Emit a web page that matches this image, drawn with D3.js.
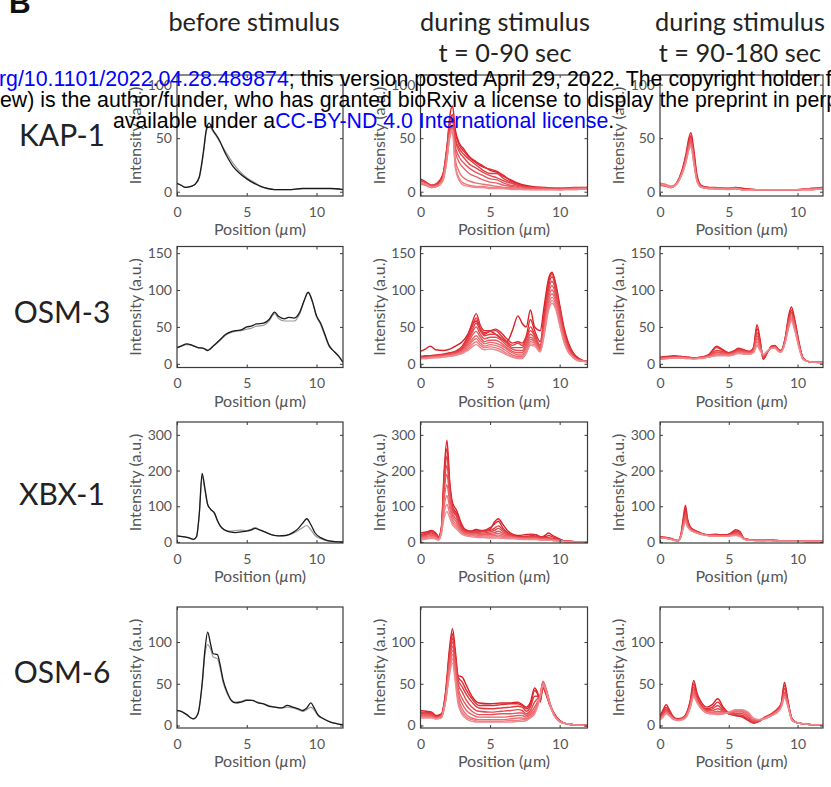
<!DOCTYPE html>
<html>
<head>
<meta charset="utf-8">
<script src="https://cdn.jsdelivr.net/npm/d3@7"></script>
<style>
  body { margin: 0; background: #fff; }
  svg { display: block; }
</style>
</head>
<body>
<script>
// ---------------- data ----------------
var rowNames = ["KAP-1", "OSM-3", "XBX-1", "OSM-6"];
var colTitles = [["before stimulus"], ["during stimulus", "t = 0-90 sec"], ["during stimulus", "t = 90-180 sec"]];
var xTicks = [0, 5, 10];
var yTicksKap = [0, 50, 100];
var yTicksOsm3 = [0, 50, 100, 150];
var yTicksXbx = [0, 100, 200, 300];
var yTicksOsm6 = [0, 50, 100];

// KAP-1
var kapBeforeX = [0, 0.3, 0.6, 1.0, 1.3, 1.6, 1.9, 2.1, 2.3, 2.6, 3.0, 3.5, 4.0, 4.5, 5.0, 5.5, 6.0, 6.5, 7.0, 7.5, 8.0, 9.0, 10.0, 11.0, 11.9];
var kapBeforeBlack = [8, 6, 4, 5, 7, 14, 38, 58, 64, 57, 49, 35, 24, 17, 12, 8, 5, 3, 2, 2, 2, 3, 3, 3, 2];
var kapBeforeGray = [7, 6, 4, 5, 7, 13, 36, 56, 61, 56, 48, 37, 27, 19, 13, 9, 5, 3, 2, 2, 2, 3, 3, 3, 2];
var kapEarlyX = [0, 0.4, 0.8, 1.2, 1.6, 1.9, 2.1, 2.3, 2.5, 2.8, 3.1, 3.5, 4.0, 4.5, 5.0, 5.5, 6.0, 6.5, 7.0, 7.5, 8.0, 9.0, 10.0, 11.0, 12.0];
var kapEarly = [
  [10, 8, 5, 7, 15, 40, 70, 80, 58, 45, 40, 33, 28, 24, 20, 18, 14, 11, 8, 6, 5, 4, 3, 4, 4],
  [12, 9, 6, 8, 16, 42, 65, 72, 55, 43, 38, 32, 27, 23, 21, 19, 15, 10, 7, 5, 4, 3, 3, 3, 4],
  [9, 7, 5, 6, 13, 38, 60, 68, 50, 40, 35, 30, 25, 20, 17, 17, 12, 9, 6, 5, 4, 3, 3, 3, 4],
  [11, 8, 6, 7, 14, 40, 62, 66, 48, 37, 32, 26, 22, 18, 15, 13, 10, 8, 6, 4, 4, 3, 3, 3, 3],
  [8, 6, 4, 6, 12, 35, 55, 62, 42, 32, 27, 22, 18, 15, 12, 11, 8, 6, 5, 4, 3, 3, 3, 3, 3],
  [9, 7, 5, 6, 12, 34, 55, 60, 38, 27, 22, 17, 14, 11, 9, 8, 6, 5, 4, 3, 3, 3, 2, 3, 3],
  [7, 6, 4, 5, 11, 32, 52, 58, 30, 18, 13, 10, 8, 7, 6, 5, 4, 4, 3, 3, 2, 2, 2, 3, 3],
  [8, 6, 4, 5, 10, 30, 50, 56, 25, 12, 8, 6, 5, 5, 4, 4, 3, 3, 3, 2, 2, 2, 2, 2, 3],
  [9, 7, 4, 5, 10, 30, 52, 58, 22, 10, 6, 5, 4, 4, 3, 3, 3, 2, 2, 2, 2, 2, 2, 2, 3]
];
var kapLateX = [0, 0.4, 0.8, 1.2, 1.6, 1.9, 2.1, 2.25, 2.45, 2.7, 3.0, 3.5, 4.0, 5.0, 5.5, 6.0, 7.0, 8.0, 9.0, 10.0, 11.0, 11.8];
var kapLate = [
  [7, 6, 4, 8, 20, 36, 50, 55, 40, 15, 6, 4, 4, 3, 4, 3, 2, 2, 2, 2, 3, 4],
  [8, 6, 4, 8, 19, 34, 47, 52, 36, 13, 5, 4, 3, 3, 4, 3, 2, 2, 2, 2, 2, 4],
  [7, 6, 5, 8, 19, 33, 46, 50, 34, 12, 5, 4, 3, 3, 3, 2, 2, 2, 2, 2, 3, 3],
  [6, 5, 4, 7, 18, 31, 44, 48, 32, 11, 5, 3, 3, 3, 3, 2, 2, 2, 2, 2, 2, 3],
  [7, 6, 4, 7, 17, 30, 42, 46, 30, 10, 5, 3, 3, 3, 3, 2, 2, 2, 2, 2, 3, 3],
  [8, 7, 5, 8, 17, 29, 40, 44, 28, 10, 4, 3, 3, 3, 3, 2, 2, 2, 2, 2, 2, 3],
  [7, 6, 4, 7, 16, 28, 39, 42, 27, 9, 4, 3, 3, 2, 3, 2, 2, 2, 2, 2, 2, 3]
];

// OSM-3
var osm3BeforeX = [0, 0.3, 0.7, 1.1, 1.5, 1.9, 2.2, 2.6, 3.1, 3.5, 3.8, 4.2, 4.6, 5.0, 5.3, 5.7, 6.2, 6.6, 7.0, 7.3, 7.7, 8.0, 8.4, 8.8, 9.1, 9.4, 9.7, 10.0, 10.3, 10.6, 10.9, 11.3, 11.6, 11.9];
var osm3BeforeBlack = [22, 24, 27, 25, 22, 21, 18, 24, 33, 40, 43, 45, 46, 50, 51, 54, 55, 60, 70, 64, 61, 63, 62, 70, 85, 97, 85, 65, 55, 40, 25, 16, 10, 2];
var osm3BeforeGray = [22, 24, 26, 25, 22, 21, 19, 24, 32, 39, 42, 44, 45, 47, 48, 51, 52, 58, 68, 61, 58, 58, 58, 68, 84, 96, 84, 64, 53, 38, 24, 16, 10, 2];
var osm3EarlyX = [0, 0.35, 0.7, 1.1, 1.6, 2.1, 2.6, 3.0, 3.4, 3.7, 4.0, 4.3, 4.6, 5.0, 5.4, 5.8, 6.2, 6.6, 7.0, 7.3, 7.6, 7.9, 8.2, 8.6, 8.9, 9.2, 9.45, 9.7, 10.0, 10.3, 10.6, 11.0, 11.4, 12.0];
var osm3Early = [
  [17, 20, 24, 19, 18, 20, 25, 30, 40, 52, 58, 45, 40, 44, 40, 34, 30, 45, 65, 55, 50, 73, 50, 45, 80, 115, 124, 110, 80, 50, 30, 14, 7, 3],
  [10, 11, 11, 12, 13, 15, 18, 24, 38, 55, 68, 52, 45, 45, 47, 42, 34, 28, 30, 28, 38, 60, 45, 30, 70, 110, 122, 108, 78, 48, 28, 13, 6, 3],
  [9, 10, 10, 11, 12, 14, 17, 22, 35, 50, 62, 48, 42, 44, 45, 38, 30, 25, 28, 25, 35, 50, 40, 25, 65, 105, 118, 105, 75, 45, 26, 12, 6, 3],
  [9, 9, 10, 11, 12, 13, 16, 20, 32, 45, 55, 45, 38, 40, 40, 35, 28, 22, 22, 22, 32, 45, 38, 22, 60, 100, 112, 100, 72, 42, 24, 11, 5, 3],
  [8, 9, 9, 10, 11, 13, 15, 19, 30, 42, 50, 40, 34, 36, 36, 32, 25, 20, 18, 18, 28, 40, 35, 21, 55, 95, 106, 95, 68, 40, 22, 10, 5, 3],
  [8, 8, 9, 10, 11, 12, 14, 18, 27, 38, 44, 36, 30, 32, 32, 28, 22, 17, 15, 15, 25, 36, 32, 20, 50, 90, 100, 90, 64, 38, 20, 9, 5, 3],
  [8, 8, 9, 9, 10, 12, 14, 17, 25, 33, 38, 32, 27, 29, 28, 25, 20, 15, 12, 12, 22, 33, 30, 19, 48, 85, 95, 86, 60, 35, 19, 9, 5, 3],
  [7, 8, 8, 9, 10, 11, 13, 16, 22, 30, 34, 28, 24, 26, 25, 22, 17, 12, 10, 10, 18, 30, 28, 18, 45, 80, 90, 82, 57, 33, 18, 8, 4, 3],
  [7, 7, 8, 9, 10, 11, 12, 15, 20, 26, 30, 25, 22, 23, 22, 19, 14, 10, 8, 8, 16, 27, 26, 17, 42, 76, 86, 78, 54, 31, 17, 8, 4, 3],
  [7, 7, 8, 8, 9, 10, 12, 14, 18, 23, 26, 22, 19, 20, 19, 16, 12, 9, 7, 7, 14, 25, 24, 16, 40, 72, 82, 75, 52, 30, 16, 8, 4, 3]
];
var osm3LateX = [0, 0.5, 1.0, 1.5, 2.0, 2.5, 3.0, 3.5, 3.8, 4.1, 4.5, 5.0, 5.3, 5.7, 6.1, 6.5, 6.8, 7.05, 7.3, 7.5, 7.8, 8.1, 8.35, 8.6, 8.8, 9.1, 9.35, 9.55, 9.8, 10.1, 10.4, 10.8, 11.3, 11.85];
var osm3Late = [
  [9, 10, 11, 10, 9, 8, 9, 12, 18, 24, 20, 15, 17, 20, 18, 16, 22, 53, 30, 6, 15, 24, 25, 20, 18, 35, 65, 77, 60, 30, 8, 3, 2, 2],
  [8, 9, 10, 10, 9, 8, 9, 11, 17, 22, 19, 15, 16, 21, 19, 17, 22, 48, 28, 7, 15, 23, 24, 19, 18, 34, 62, 73, 57, 28, 8, 3, 2, 2],
  [8, 9, 10, 9, 8, 8, 9, 11, 15, 18, 17, 14, 16, 19, 18, 16, 20, 42, 26, 9, 16, 22, 24, 19, 17, 33, 60, 70, 55, 27, 8, 3, 2, 2],
  [7, 8, 9, 9, 8, 7, 8, 10, 13, 16, 15, 13, 15, 18, 17, 15, 19, 38, 24, 10, 16, 22, 23, 18, 17, 32, 58, 68, 53, 26, 7, 3, 2, 2],
  [7, 8, 9, 9, 8, 7, 8, 10, 12, 15, 14, 13, 14, 17, 16, 15, 18, 34, 22, 11, 16, 22, 23, 18, 17, 31, 55, 65, 51, 25, 7, 3, 2, 2],
  [7, 8, 8, 8, 8, 7, 8, 9, 11, 13, 13, 12, 13, 16, 15, 14, 17, 30, 20, 12, 17, 22, 22, 18, 16, 30, 52, 62, 49, 24, 7, 3, 2, 1],
  [6, 7, 8, 8, 7, 7, 8, 9, 10, 12, 12, 11, 12, 15, 14, 13, 16, 26, 18, 12, 17, 21, 22, 17, 16, 29, 50, 60, 47, 23, 6, 3, 2, 1],
  [6, 7, 8, 8, 7, 7, 7, 9, 10, 11, 11, 11, 12, 14, 13, 13, 15, 24, 17, 13, 17, 21, 21, 17, 16, 28, 48, 58, 45, 22, 6, 3, 2, 1]
];

// XBX-1
var xbxBeforeX = [0, 0.4, 0.8, 1.2, 1.4, 1.6, 1.8, 2.0, 2.2, 2.4, 2.7, 2.9, 3.1, 3.4, 3.8, 4.2, 4.6, 5.0, 5.3, 5.6, 5.9, 6.3, 6.8, 7.3, 7.8, 8.3, 8.7, 9.0, 9.3, 9.6, 9.9, 10.3, 10.8, 11.3, 11.9];
var xbxBeforeBlack = [17, 15, 12, 7, 15, 80, 192, 150, 105, 92, 80, 60, 45, 34, 28, 26, 28, 30, 33, 38, 34, 28, 20, 17, 18, 26, 38, 52, 65, 48, 25, 12, 4, 1, 0];
var xbxBeforeGray = [17, 15, 12, 7, 14, 78, 185, 145, 104, 92, 78, 58, 44, 33, 30, 32, 33, 32, 35, 40, 35, 28, 20, 17, 18, 24, 32, 40, 46, 34, 18, 9, 3, 1, 0];
var xbxEarlyX = [0, 0.4, 0.8, 1.1, 1.3, 1.5, 1.7, 1.9, 2.1, 2.3, 2.6, 2.9, 3.2, 3.6, 4.0, 4.5, 5.0, 5.3, 5.6, 5.9, 6.3, 7.0, 7.5, 8.0, 8.3, 8.6, 9.0, 9.2, 9.5, 9.9, 10.3, 10.8, 11.4, 12.0];
var xbxEarly = [
  [25, 28, 32, 25, 15, 40, 200, 285, 170, 110, 88, 55, 35, 30, 35, 30, 35, 55, 65, 50, 30, 18, 20, 22, 20, 12, 20, 25, 18, 10, 3, 1, 0, 0],
  [20, 25, 30, 22, 14, 38, 185, 262, 160, 100, 80, 50, 32, 30, 33, 32, 40, 50, 58, 40, 25, 15, 15, 18, 20, 15, 15, 18, 14, 8, 3, 1, 0, 0],
  [18, 22, 28, 20, 12, 36, 170, 240, 150, 95, 75, 45, 30, 28, 30, 30, 32, 38, 45, 35, 22, 14, 14, 15, 16, 12, 12, 12, 10, 6, 2, 1, 0, 0],
  [15, 20, 25, 18, 10, 34, 155, 215, 140, 88, 70, 40, 28, 26, 27, 25, 28, 32, 38, 30, 20, 13, 12, 13, 14, 10, 10, 10, 8, 5, 2, 1, 0, 0],
  [14, 18, 22, 16, 9, 32, 140, 190, 125, 80, 62, 36, 26, 24, 24, 22, 24, 26, 30, 25, 18, 12, 11, 12, 12, 9, 9, 9, 7, 5, 2, 1, 0, 0],
  [12, 15, 18, 14, 8, 30, 120, 160, 110, 72, 55, 33, 24, 22, 22, 20, 20, 22, 24, 20, 16, 11, 10, 10, 10, 8, 8, 8, 6, 4, 2, 1, 0, 0],
  [10, 12, 15, 12, 7, 28, 100, 130, 95, 62, 48, 30, 22, 20, 19, 17, 17, 18, 19, 16, 14, 10, 9, 9, 9, 7, 7, 7, 5, 3, 1, 0, 0, 0],
  [8, 10, 12, 10, 6, 26, 82, 105, 80, 55, 42, 27, 20, 18, 16, 14, 14, 14, 15, 13, 12, 9, 8, 8, 8, 6, 6, 6, 4, 3, 1, 0, 0, 0],
  [6, 8, 10, 8, 5, 24, 68, 85, 68, 48, 36, 24, 18, 15, 13, 12, 11, 11, 11, 10, 9, 8, 7, 7, 7, 5, 5, 5, 4, 2, 1, 0, 0, 0]
];
var xbxLateX = [0, 0.4, 0.8, 1.1, 1.3, 1.5, 1.7, 1.85, 2.0, 2.2, 2.5, 2.8, 3.2, 3.6, 4.0, 4.4, 4.8, 5.2, 5.5, 5.8, 6.1, 6.5, 7.0, 7.5, 8.0, 8.5, 9.0, 10.0, 11.0, 11.85];
var xbxLate = [
  [15, 13, 10, 6, 4, 18, 70, 102, 65, 42, 33, 28, 22, 20, 22, 20, 20, 26, 34, 30, 10, 6, 5, 5, 6, 4, 3, 2, 1, 1],
  [14, 12, 9, 5, 4, 16, 62, 92, 60, 40, 32, 27, 22, 19, 20, 19, 19, 24, 30, 27, 10, 6, 5, 5, 5, 4, 3, 2, 1, 1],
  [13, 12, 9, 5, 3, 15, 55, 82, 55, 38, 30, 26, 21, 19, 19, 18, 18, 22, 26, 24, 9, 6, 5, 4, 5, 4, 3, 2, 1, 1],
  [13, 11, 8, 5, 3, 14, 50, 74, 50, 37, 30, 25, 21, 18, 18, 17, 17, 20, 23, 21, 9, 5, 4, 4, 5, 3, 3, 2, 1, 1],
  [12, 11, 8, 4, 3, 13, 45, 66, 46, 35, 29, 24, 20, 18, 18, 17, 17, 19, 21, 19, 8, 5, 4, 4, 4, 3, 2, 2, 1, 1],
  [12, 10, 7, 4, 3, 12, 42, 60, 44, 34, 28, 24, 20, 17, 17, 16, 16, 18, 19, 17, 8, 5, 4, 4, 4, 3, 2, 2, 1, 1],
  [11, 10, 7, 4, 3, 12, 40, 56, 42, 33, 27, 23, 19, 17, 17, 16, 16, 17, 18, 16, 8, 5, 4, 4, 4, 3, 2, 2, 1, 1]
];

// OSM-6
var osm6BeforeX = [0, 0.3, 0.7, 1.0, 1.2, 1.5, 1.8, 2.0, 2.2, 2.4, 2.6, 2.9, 3.1, 3.3, 3.6, 3.9, 4.2, 4.6, 5.0, 5.4, 5.8, 6.2, 6.6, 7.0, 7.5, 7.9, 8.3, 8.7, 9.0, 9.3, 9.6, 9.8, 10.1, 10.5, 11.0, 11.5, 11.9];
var osm6BeforeBlack = [18, 17, 13, 9, 8, 14, 50, 90, 112, 98, 86, 85, 72, 55, 40, 30, 27, 28, 30, 30, 27, 26, 23, 22, 21, 24, 22, 20, 18, 21, 27, 22, 13, 8, 4, 2, 1];
var osm6BeforeGray = [18, 17, 13, 9, 8, 14, 48, 85, 97, 92, 82, 80, 68, 52, 38, 30, 28, 29, 31, 30, 28, 26, 24, 22, 21, 22, 21, 19, 17, 19, 22, 19, 12, 8, 4, 2, 1];
var osm6EarlyX = [0, 0.4, 0.8, 1.1, 1.5, 1.8, 2.1, 2.3, 2.5, 2.7, 3.0, 3.3, 3.7, 4.2, 5.0, 5.8, 6.5, 7.0, 7.3, 7.6, 7.9, 8.2, 8.4, 8.6, 8.8, 9.0, 9.3, 9.6, 10.0, 10.5, 11.0, 12.0];
var osm6Early = [
  [18, 17, 16, 12, 14, 40, 95, 116, 90, 60, 58, 48, 35, 27, 26, 27, 27, 28, 25, 22, 28, 45, 40, 30, 48, 40, 25, 15, 6, 2, 1, 0],
  [16, 16, 15, 11, 13, 38, 90, 110, 85, 58, 52, 42, 32, 24, 24, 25, 26, 26, 24, 20, 25, 42, 38, 28, 45, 38, 24, 14, 6, 2, 1, 0],
  [15, 15, 14, 10, 12, 36, 86, 105, 80, 55, 46, 37, 28, 21, 20, 21, 22, 23, 22, 17, 22, 35, 35, 30, 48, 40, 24, 13, 5, 2, 1, 0],
  [14, 14, 13, 10, 12, 34, 82, 100, 76, 50, 40, 30, 22, 17, 16, 17, 18, 19, 18, 14, 18, 28, 32, 33, 50, 42, 25, 13, 5, 2, 1, 0],
  [13, 13, 12, 9, 11, 33, 78, 95, 72, 45, 32, 24, 17, 13, 13, 14, 14, 15, 15, 12, 15, 22, 28, 35, 52, 44, 26, 13, 5, 2, 1, 0],
  [12, 12, 11, 9, 11, 32, 74, 90, 68, 40, 26, 18, 13, 10, 10, 10, 11, 12, 12, 10, 13, 18, 25, 36, 53, 45, 27, 13, 5, 2, 1, 0],
  [11, 11, 10, 8, 10, 30, 70, 85, 62, 35, 20, 13, 9, 7, 7, 7, 8, 9, 9, 8, 11, 16, 24, 36, 52, 45, 27, 13, 5, 2, 1, 0],
  [10, 10, 10, 8, 10, 29, 66, 80, 58, 30, 16, 10, 7, 5, 5, 5, 6, 6, 7, 7, 10, 15, 23, 35, 50, 44, 26, 12, 5, 2, 1, 0],
  [9, 9, 9, 8, 9, 28, 62, 75, 52, 26, 13, 8, 5, 4, 4, 4, 4, 5, 5, 6, 9, 14, 22, 34, 48, 42, 25, 12, 5, 2, 1, 0]
];
var osm6LateX = [0, 0.2, 0.45, 0.7, 1.0, 1.3, 1.6, 1.9, 2.2, 2.45, 2.7, 3.0, 3.4, 3.8, 4.2, 4.6, 5.0, 5.5, 6.0, 6.4, 6.8, 7.2, 7.6, 8.0, 8.4, 8.8, 9.05, 9.3, 9.6, 10.0, 10.5, 11.0, 11.85];
var osm6Late = [
  [12, 18, 25, 18, 10, 8, 9, 14, 30, 54, 38, 28, 22, 25, 32, 22, 15, 12, 10, 6, 3, 5, 10, 13, 18, 26, 52, 30, 8, 3, 2, 1, 1],
  [10, 16, 22, 16, 9, 7, 8, 13, 28, 50, 35, 25, 20, 22, 28, 20, 14, 12, 11, 7, 3, 5, 9, 12, 17, 25, 48, 28, 8, 3, 2, 1, 1],
  [9, 14, 20, 15, 9, 7, 8, 12, 26, 46, 33, 24, 19, 20, 24, 18, 14, 13, 12, 8, 4, 5, 9, 12, 17, 24, 44, 27, 7, 3, 2, 1, 1],
  [8, 13, 18, 14, 8, 7, 8, 12, 25, 43, 32, 23, 18, 18, 20, 17, 15, 14, 14, 10, 5, 6, 9, 12, 16, 24, 40, 26, 7, 3, 2, 1, 1],
  [8, 12, 17, 13, 8, 7, 8, 11, 24, 40, 30, 22, 17, 16, 17, 16, 15, 16, 16, 12, 6, 6, 9, 12, 16, 23, 38, 25, 7, 3, 2, 1, 1],
  [7, 11, 16, 12, 8, 7, 7, 11, 23, 38, 29, 21, 16, 15, 15, 15, 15, 17, 17, 14, 7, 7, 9, 11, 15, 22, 36, 24, 7, 3, 2, 1, 1],
  [7, 10, 15, 12, 8, 6, 7, 10, 22, 36, 28, 20, 15, 14, 14, 14, 16, 18, 18, 15, 8, 7, 8, 11, 15, 22, 34, 24, 6, 3, 2, 1, 1],
  [7, 10, 14, 11, 7, 6, 7, 10, 21, 34, 27, 20, 15, 14, 13, 14, 16, 19, 19, 16, 9, 7, 8, 11, 14, 21, 33, 23, 6, 3, 2, 1, 1]
];

// ---------------- layout ----------------
var W = 831, H = 787;
var colX = [177, 420.5, 660];
var colW = [166, 167, 163];
var colXMax = [11.9, 12, 11.85];
var rowY = [75, 246.5, 422, 607];
var rowH = 121;
var rowYLim = [[-4, 109], [-5, 159], [-3, 336], [-3, 142]];
var rowYTicks = [yTicksKap, yTicksOsm3, yTicksXbx, yTicksOsm6];

var axisFont = "Lato, 'Open Sans', sans-serif";
var axisColor = "#3a3a3a";
var labelColor = "#555";
var darkRed = "#dc1f26", lightRed = "#f0898d";

var svg = d3.select("body").append("svg")
  .attr("width", W).attr("height", H)
  .style("font-family", axisFont);

svg.append("rect").attr("width", W).attr("height", H).attr("fill", "#fff");

// each row: before (black + gray), early (red family), late (red family)
var rows = [
  {before: [kapBeforeX, kapBeforeBlack, kapBeforeGray], early: [kapEarlyX, kapEarly], late: [kapLateX, kapLate]},
  {before: [osm3BeforeX, osm3BeforeBlack, osm3BeforeGray], early: [osm3EarlyX, osm3Early], late: [osm3LateX, osm3Late]},
  {before: [xbxBeforeX, xbxBeforeBlack, xbxBeforeGray], early: [xbxEarlyX, xbxEarly], late: [xbxLateX, xbxLate]},
  {before: [osm6BeforeX, osm6BeforeBlack, osm6BeforeGray], early: [osm6EarlyX, osm6Early], late: [osm6LateX, osm6Late]}
];

var panelId = 0;

function draw_panel(r, c, xs, traces) {
  // traces: list of {ys, color, width}
  var x0 = colX[c], y0 = rowY[r], w = colW[c], h = rowH;
  var x = d3.scaleLinear().domain([0, colXMax[c]]).range([x0, x0 + w]);
  var y = d3.scaleLinear().domain(rowYLim[r]).range([y0 + h, y0]);
  var g = svg.append("g");

  panelId++;
  var clipName = "clip" + panelId;
  g.append("clipPath").attr("id", clipName)
    .append("rect").attr("x", x0).attr("y", y0).attr("width", w).attr("height", h);

  var line = d3.line()
    .x(function(d) { return x(d[0]); })
    .y(function(d) { return y(d[1]); })
    .curve(d3.curveMonotoneX);

  var lg = g.append("g").attr("clip-path", "url(#" + clipName + ")");
  traces.forEach(function(t) {
    lg.append("path")
      .attr("d", line(xs.map(function(v, i) { return [v, t.ys[i]]; })))
      .attr("fill", "none")
      .attr("stroke", t.color)
      .attr("stroke-width", t.width)
      .attr("stroke-linejoin", "round");
  });

  // axes with inward ticks on all four sides (matlab box style)
  var yTicks = rowYTicks[r];
  var left = g.append("g").attr("transform", "translate(" + x0 + ",0)")
    .call(d3.axisLeft(y).tickValues(yTicks).tickSizeInner(-3).tickSizeOuter(0).tickPadding(5));
  var right = g.append("g").attr("transform", "translate(" + (x0 + w) + ",0)")
    .call(d3.axisRight(y).tickValues(yTicks).tickSizeInner(-3).tickSizeOuter(0).tickFormat(""));
  var bottom = g.append("g").attr("transform", "translate(0," + (y0 + h) + ")")
    .call(d3.axisBottom(x).tickValues(xTicks).tickSizeInner(-3).tickSizeOuter(0).tickPadding(11));
  var top = g.append("g").attr("transform", "translate(0," + y0 + ")")
    .call(d3.axisTop(x).tickValues(xTicks).tickSizeInner(-3).tickSizeOuter(0).tickFormat(""));

  [left, right, bottom, top].forEach(function(a) {
    a.select(".domain").remove();
    a.selectAll("line").attr("stroke", axisColor);
    a.selectAll("text").attr("fill", labelColor).style("font-size", "14px").style("font-family", axisFont);
  });

  g.append("rect")
    .attr("x", x0).attr("y", y0).attr("width", w).attr("height", h)
    .attr("fill", "none").attr("stroke", axisColor).attr("stroke-width", 1.2);

  // axis labels
  var xl = g.append("text")
    .attr("x", x0 + w / 2).attr("y", y0 + h + 39)
    .attr("text-anchor", "middle").attr("fill", labelColor)
    .style("font-size", "16px");
  xl.append("tspan").text("Position (");
  xl.append("tspan").style("font-style", "italic").text("\u00b5");
  xl.append("tspan").text("m)");

  g.append("text")
    .attr("transform", "translate(" + (x0 - 36) + "," + (y0 + h / 2) + ") rotate(-90)")
    .attr("text-anchor", "middle").attr("fill", labelColor)
    .style("font-size", "16px")
    .text("Intensity (a.u.)");
}

function red_family(list) {
  var n = list.length;
  return list.map(function(ys, i) {
    return {ys: ys, color: d3.interpolateRgb(darkRed, lightRed)(n > 1 ? i / (n - 1) : 0), width: 1.4};
  });
}

rows.forEach(function(row, r) {
  draw_panel(r, 0, row.before[0], [
    {ys: row.before[2], color: "#9a9a9a", width: 1.2},
    {ys: row.before[1], color: "#1a1a1a", width: 1.3}
  ]);
  draw_panel(r, 1, row.early[0], red_family(row.early[1]));
  draw_panel(r, 2, row.late[0], red_family(row.late[1]));
});

// column titles
var titleX = [254, 505, 740];
colTitles.forEach(function(lines, c) {
  lines.forEach(function(t, k) {
    svg.append("text")
      .attr("x", titleX[c]).attr("y", 31 + k * 31)
      .attr("text-anchor", "middle").attr("fill", "#222")
      .style("font-size", "25.3px")
      .text(t);
  });
});

// row names
var rowNameY = [135, 312, 494, 672];
rowNames.forEach(function(n, r) {
  svg.append("text")
    .attr("x", 62).attr("y", rowNameY[r]).attr("dy", "0.35em")
    .attr("text-anchor", "middle").attr("fill", "#222")
    .style("font-size", "30px")
    .text(n);
});

// panel letter (cut off at top)
svg.append("text")
  .attr("x", 9).attr("y", 13)
  .style("font-family", "'Liberation Sans', Arial, sans-serif")
  .style("font-weight", "bold").style("font-size", "30px")
  .attr("fill", "#111")
  .text("B");

// bioRxiv watermark text on top
var wmFont = "'Liberation Sans', Arial, sans-serif";
var wmSize = "21.3px";
var wm1 = svg.append("text").attr("x", -1).attr("y", 86)
  .style("font-family", wmFont).style("font-size", wmSize);
wm1.append("tspan").attr("fill", "#0000ff").text("rg/10.1101/2022.04.28.489874");
wm1.append("tspan").attr("fill", "#000").text("; this version posted April 29, 2022. The copyright holder for this preprint");

svg.append("text").attr("x", 0).attr("y", 107)
  .style("font-family", wmFont).style("font-size", wmSize).attr("fill", "#000")
  .text("ew) is the author/funder, who has granted bioRxiv a license to display the preprint in perpetuity.");

var wm3 = svg.append("text").attr("x", 113).attr("y", 128)
  .style("font-family", wmFont).style("font-size", wmSize);
wm3.append("tspan").attr("fill", "#000").text("available under a");
wm3.append("tspan").attr("fill", "#0000ff").text("CC-BY-ND 4.0 International license");
wm3.append("tspan").attr("fill", "#000").text(".");
</script>
</body>
</html>
